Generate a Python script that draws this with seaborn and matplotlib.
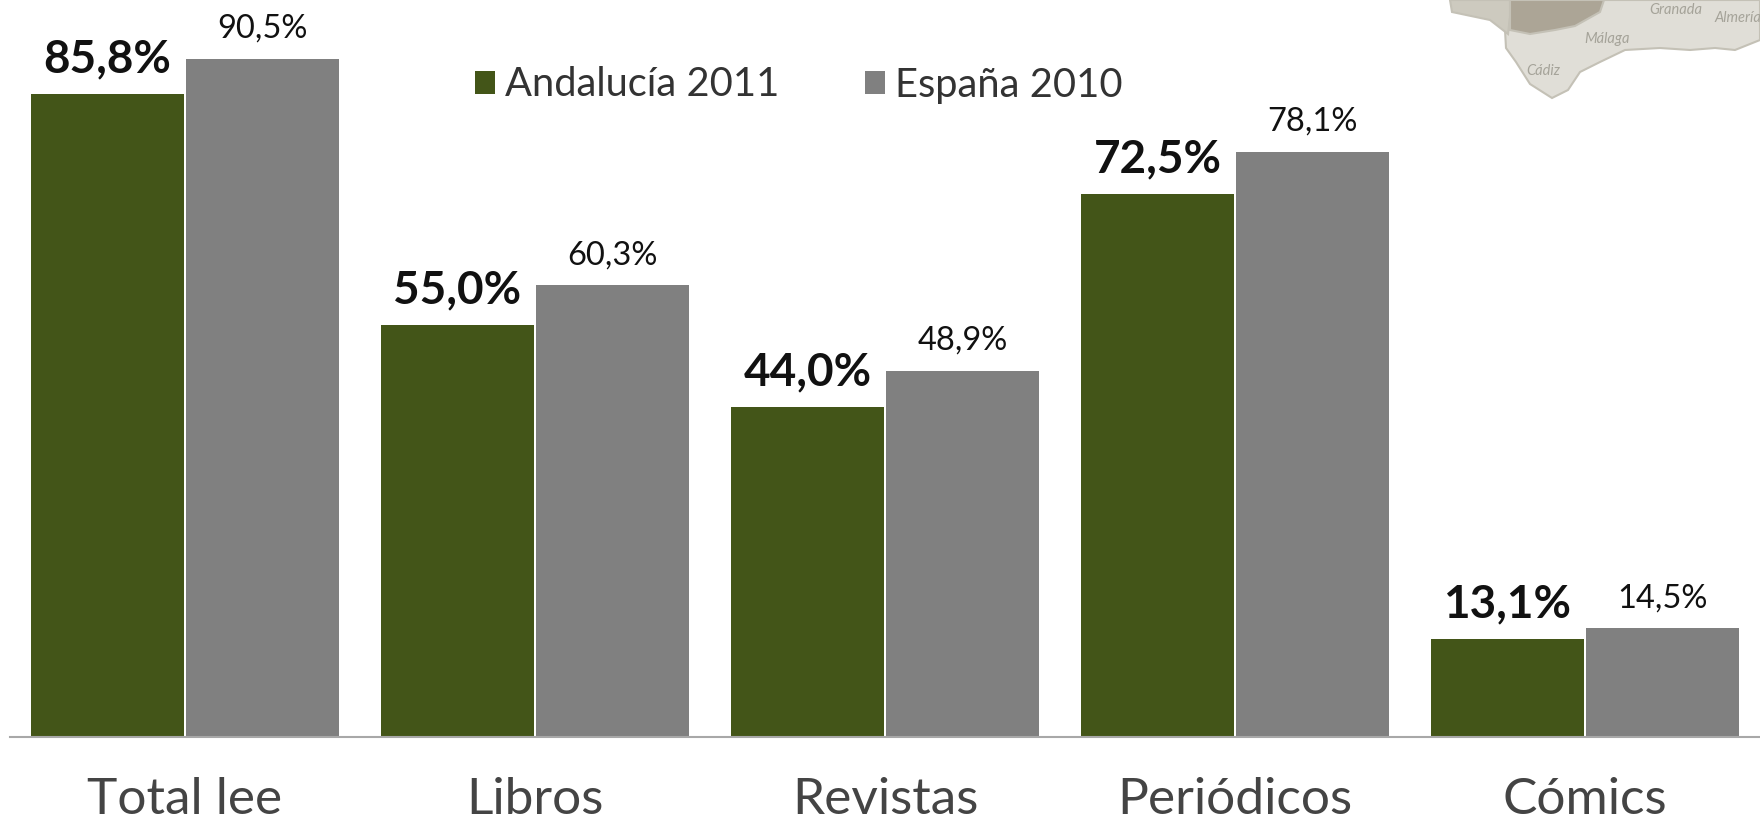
# Reading habits: Andalucia 2011 vs Espana 2010, grouped bars with a map corner

import pandas as pd
import matplotlib.pyplot as plt
import seaborn as sns
from matplotlib.patches import Polygon

categories = ["Total lee", "Libros", "Revistas", "Periódicos", "Cómics"]
andalucia = [85.8, 55.0, 44.0, 72.5, 13.1]
espana = [90.5, 60.3, 48.9, 78.1, 14.5]
series_names = ["Andalucía 2011", "España 2010"]
map_labels = ["Granada", "Almería", "Málaga", "Cádiz"]

GREEN = "#435518"
GRAY = "#808080"
W, H = 1760, 822

sns.set_theme(style="white")
plt.rcParams["font.family"] = ["Lato", "DejaVu Sans"]

df = pd.DataFrame(
    {
        "cat": categories * 2,
        "value": andalucia + espana,
        "serie": [series_names[0]] * 5 + [series_names[1]] * 5,
    }
)

fig = plt.figure(figsize=(W / 100, H / 100), dpi=100)
ax = fig.add_axes([10 / W, 1 - 737 / H, 1750 / W, 737 / H])

sns.barplot(
    data=df,
    x="cat",
    y="value",
    hue="serie",
    palette=[GREEN, GRAY],
    width=0.886,
    gap=0.013,
    saturation=1,
    linewidth=0,
    ax=ax,
)

ax.set_xlim(-0.5, 4.5)
ax.set_ylim(0, 98.4)
ax.set_xlabel("")
ax.set_ylabel("")
ax.set_yticks([])
ax.tick_params(axis="x", length=0, pad=29, labelsize=37, labelcolor="#444444")

for s in ["top", "left", "right"]:
    ax.spines[s].set_visible(False)
ax.spines["bottom"].set_color("#a8a8a8")
ax.spines["bottom"].set_linewidth(1.5)
ax.patch.set_alpha(0)

fmt = lambda v: f"{v:.1f}%".replace(".", ",")
ax.bar_label(ax.containers[0], fmt=fmt, fontsize=33, fontweight="bold", color="#111111", padding=10)
ax.bar_label(ax.containers[1], fmt=fmt, fontsize=23.5, color="#111111", padding=11)

sns.move_legend(
    ax,
    "center left",
    bbox_to_anchor=(475 / W, 1 - 85 / H),
    bbox_transform=fig.transFigure,
    ncol=2,
    frameon=False,
    title=None,
    fontsize=28.7,
    borderaxespad=0,
    borderpad=0,
    handlelength=0.5,
    handleheight=0.5,
    handletextpad=0.25,
    columnspacing=2.15,
    labelcolor="#333333",
)


# map corner, drawn in pixel coordinates of the figure
def px(points):
    return [(x / W, 1 - y / H) for x, y in points]


shapes = [
    # coast, light provinces
    ("#e0ded7", [(1500, 0), (1760, 0), (1760, 40), (1735, 50), (1715, 48), (1690, 50), (1660, 48), (1625, 50), (1600, 62),
                 (1580, 72), (1568, 90), (1552, 98), (1530, 84), (1516, 62), (1506, 48), (1505, 30)]),
    # Huelva side
    ("#cdcabf", [(1450, 0), (1512, 0), (1508, 34), (1490, 20), (1452, 12)]),
    # Sevilla
    ("#aca596", [(1510, 0), (1604, 0), (1600, 12), (1575, 26), (1555, 30), (1530, 34), (1510, 30)]),
]
for col, pts in shapes:
    fig.add_artist(Polygon(px(pts), closed=True, transform=fig.transFigure, facecolor=col, edgecolor="#c4c1b6", lw=1.5))

for name, x, y in zip(map_labels, [1676, 1738, 1607, 1543], [10, 18, 39, 71]):
    fig.text(x / W, 1 - y / H, name, fontsize=10.5, style="italic", color="#a5a399", ha="center", va="center")

fig.savefig("out.png", dpi=100)
